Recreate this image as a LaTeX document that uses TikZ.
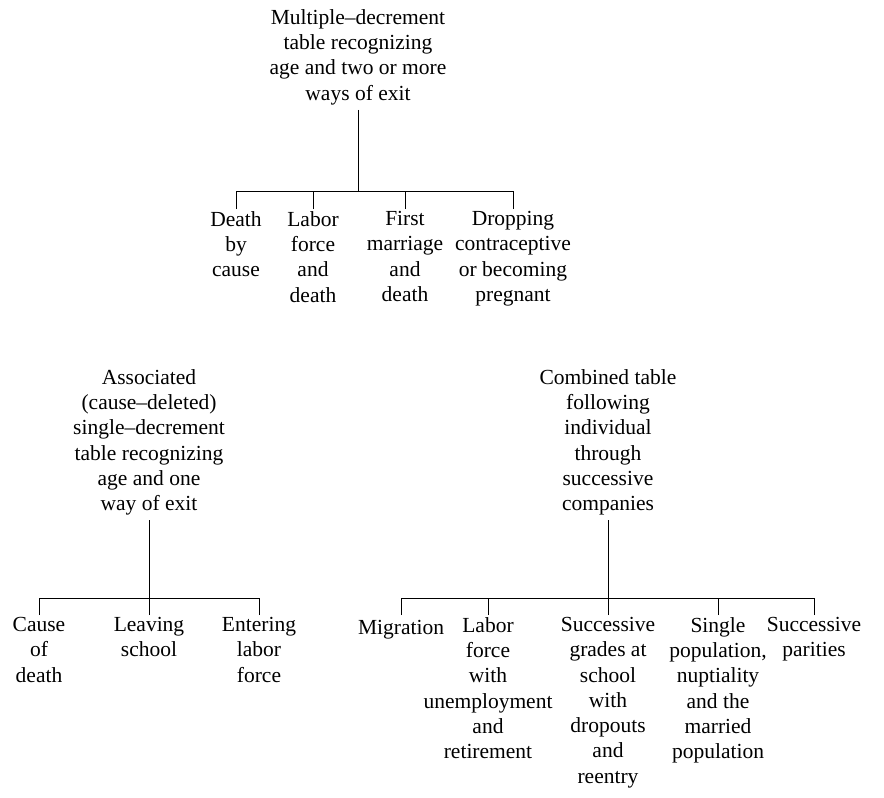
\documentclass[tikz,border=0pt]{standalone}
\usepackage{fontspec}
\setmainfont{Liberation Serif}
\begin{document}
\begin{tikzpicture}[x=1pt,y=-1pt,
  txt/.style={align=center,inner sep=2pt,anchor=north,
    font=\fontsize{21.5}{25.3}\selectfont,
    execute at begin node=\strut,execute at end node=\strut}]
  \useasboundingbox (0,0) rectangle (884,798);
  % multiple-decrement table
  \node[txt] (multi) at (358,7) {Multiple–decrement\\table recognizing\\age and two or more\\ways of exit};
  \coordinate (mbar) at (358,191);
  \draw (multi.south) -- (mbar);
  \foreach \x/\n/\t in {236/1/{Death\\by\\cause},313/2/{Labor\\force\\and\\death},
      405/3/{First\\marriage\\and\\death},513/4/{Dropping\\contraceptive\\or becoming\\pregnant}}
    {
      \node[txt] (m\n) at (\x,209) {\t};
      \draw (m\n.north) -- (m\n.north |- mbar);
    }
  \draw (m1.north |- mbar) -- (m4.north |- mbar);
  % associated single-decrement table
  \node[txt] (assoc) at (149,367) {Associated\\(cause–deleted)\\single–decrement\\table recognizing\\age and one\\way of exit};
  \coordinate (abar) at (149,598);
  \draw (assoc.south) -- (abar);
  \foreach \x/\n/\t in {39/1/{Cause\\of\\death},149/2/{Leaving\\school},259/3/{Entering\\labor\\force}}
    {
      \node[txt] (a\n) at (\x,615) {\t};
      \draw (a\n.north) -- (a\n.north |- abar);
    }
  \draw (a1.north |- abar) -- (a3.north |- abar);
  % combined table
  \node[txt] (comb) at (608,367) {Combined table\\following\\individual\\through\\successive\\companies};
  \coordinate (cbar) at (608,598);
  \draw (comb.south) -- (cbar);
  \foreach \x/\n/\t in {401/1/{Migration},488/2/{Labor\\force\\with\\unemployment\\and\\retirement},
      608/3/{Successive\\grades at\\school\\with\\dropouts\\and\\reentry},
      718/4/{Single\\population,\\nuptiality\\and the\\married\\population},814/5/{Successive\\parities}}
    {
      \node[txt] (c\n) at (\x,615) {\t};
      \draw (c\n.north) -- (c\n.north |- cbar);
    }
  \draw (c1.north |- cbar) -- (c5.north |- cbar);
\end{tikzpicture}
\end{document}
